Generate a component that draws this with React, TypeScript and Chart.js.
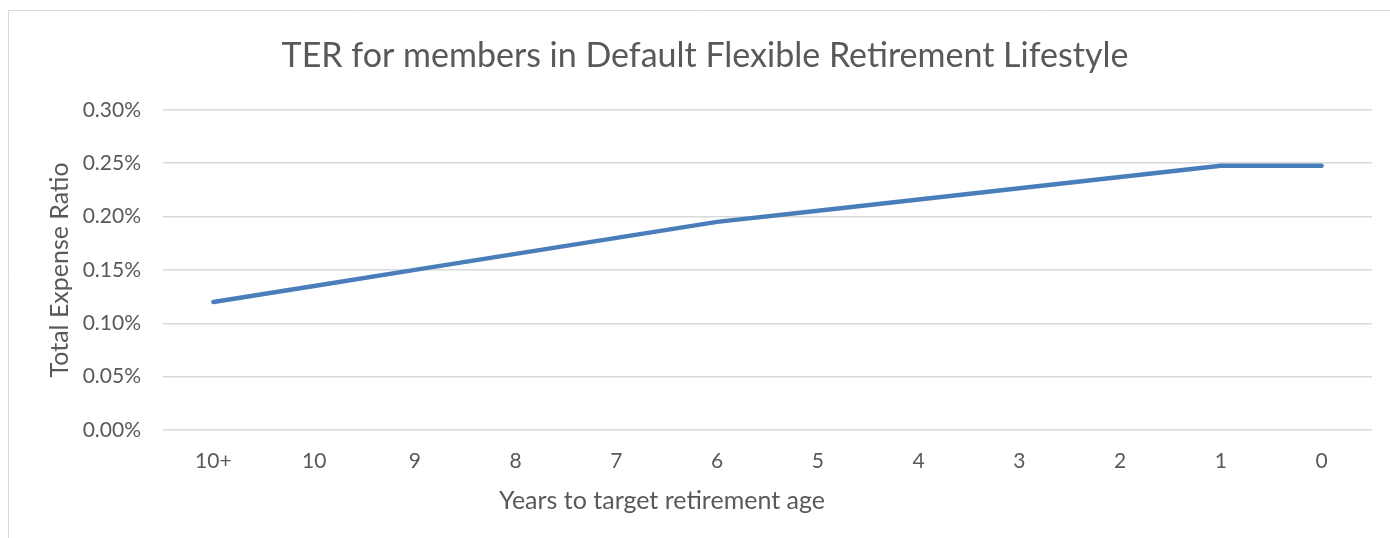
import React, { useEffect, useRef } from "react";
import { Chart, registerables } from "chart.js";

Chart.register(...registerables);

const categories = ["10+", "10", "9", "8", "7", "6", "5", "4", "3", "2", "1", "0"];
const terValues = [0.12, 0.135, 0.15, 0.165, 0.18, 0.195, 0.2055, 0.216, 0.2265, 0.237, 0.2475, 0.2475];
const chartTitle = "TER for members in Default Flexible Retirement Lifestyle";
const yAxisTitle = "Total Expense Ratio";
const xAxisTitle = "Years to target retirement age";

const FONT = "Lato, 'Open Sans', sans-serif";
const TEXT = "#595959";
const GRID = "#d9d9d9";

const borderPlugin = {
  id: "outerBorder",
  beforeDraw(chart: any) {
    const ctx = chart.ctx;
    ctx.save();
    ctx.fillStyle = "#ffffff";
    ctx.fillRect(0, 0, chart.width, chart.height);
    ctx.strokeStyle = GRID;
    ctx.lineWidth = 1;
    ctx.beginPath();
    ctx.moveTo(8.5, chart.height + 5);
    ctx.lineTo(8.5, 10.5);
    ctx.lineTo(chart.width + 5, 10.5);
    ctx.stroke();
    ctx.restore();
  },
  afterDraw(chart: any) {
    const ctx = chart.ctx;
    ctx.save();
    ctx.fillStyle = TEXT;
    ctx.font = `25px ${FONT}`;
    ctx.textAlign = "center";
    ctx.textBaseline = "middle";
    ctx.fillText(xAxisTitle, 662, 501);
    ctx.restore();
  },
};

export default function App() {
  const ref = useRef<HTMLCanvasElement | null>(null);
  useEffect(() => {
    document.body.style.margin = "0";
    document.body.style.overflow = "hidden";
    const canvas = ref.current!;
    const chart = new Chart(canvas, {
      type: "line",
      data: {
        labels: categories,
        datasets: [
          {
            data: terValues,
            borderColor: "#4a7ebb",
            backgroundColor: "#4a7ebb",
            borderWidth: 4.5,
            borderCapStyle: "round",
            borderJoinStyle: "round",
            pointRadius: 0,
            tension: 0,
            yAxisID: "y",
          },
        ],
      },
      plugins: [borderPlugin],
      options: {
        animation: false,
        responsive: false,
        devicePixelRatio: 1,
        layout: { padding: { left: 20, right: 0, top: 0, bottom: 0 } },
        plugins: {
          legend: { display: false },
          tooltip: { enabled: false },
          title: {
            display: true,
            text: chartTitle,
            color: TEXT,
            font: { family: FONT, size: 34, weight: "normal" },
            padding: { top: 36, bottom: 33 },
          },
        },
        scales: {
          x: {
            offset: true,
            grid: { display: false, drawTicks: false },
            border: { display: false },
            ticks: { color: TEXT, font: { family: FONT, size: 21 }, padding: 19, maxRotation: 0 },
            afterFit: (s: any) => {
              s.height = 108;
            },
          },
          y: {
            position: "left",
            min: 0,
            max: 0.3,
            grid: { color: GRID, lineWidth: 1.5, drawTicks: false },
            border: { display: false },
            ticks: {
              stepSize: 0.05,
              color: TEXT,
              font: { family: FONT, size: 21 },
              padding: 22,
              callback: (v: any) => Number(v).toFixed(2) + "%",
            },
            title: {
              display: true,
              text: yAxisTitle,
              color: TEXT,
              font: { family: FONT, size: 25 },
              padding: { top: 25, bottom: 0 },
            },
            afterFit: (s: any) => {
              s.width = 143;
            },
          },
          y2: {
            position: "right",
            display: true,
            grid: { display: false, drawTicks: false },
            border: { display: false },
            ticks: { display: false },
            afterFit: (s: any) => {
              s.width = 18;
            },
          },
        },
      },
    } as any);
    return () => chart.destroy();
  }, []);
  return (
    <canvas
      ref={ref}
      width={1390}
      height={538}
      style={{ position: "fixed", left: 0, top: 0, width: 1390, height: 538, display: "block" }}
    />
  );
}
